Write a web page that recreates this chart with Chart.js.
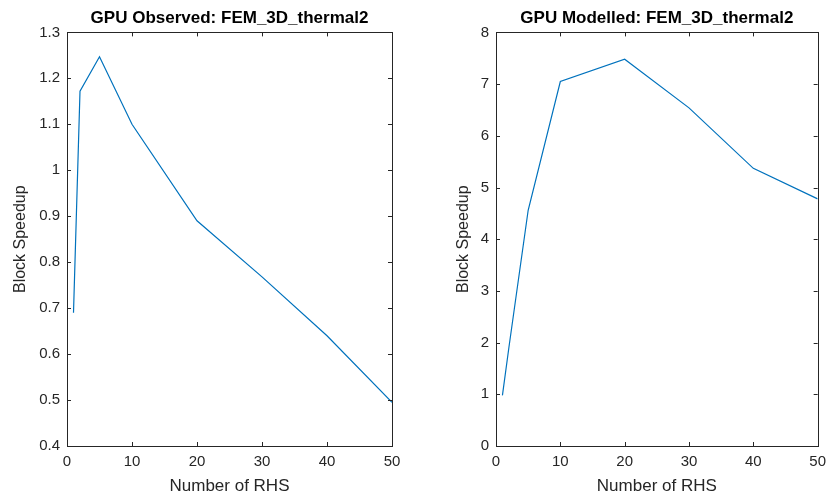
<!DOCTYPE html>
<html>
<head>
<meta charset="utf-8">
<script src="https://cdn.jsdelivr.net/npm/chart.js@4.4.1/dist/chart.umd.min.js"></script>
<style>
  html, body { margin: 0; padding: 0; background: #fff; }
  #wrap { position: relative; width: 833px; height: 499px; overflow: hidden; }
  canvas { position: absolute; top: 0; }
</style>
</head>
<body>
<div id="wrap">
  <canvas id="observed" width="416" height="499" style="left:0px"></canvas>
  <canvas id="modelled" width="417" height="499" style="left:416px"></canvas>
</div>
<script>
// number of right-hand sides (x axis)
const rhsCounts = [1, 2, 5, 10, 20, 30, 40, 50];
// block speedup
const speedupObserved = [0.69, 1.172, 1.247, 1.10, 0.89, 0.768, 0.64, 0.495];
const speedupModelled = [0.98, 1.9, 4.56, 7.05, 7.48, 6.54, 5.37, 4.78];

const xTicks = [0, 10, 20, 30, 40, 50];
const yTicksObserved = [0.4, 0.5, 0.6, 0.7, 0.8, 0.9, 1, 1.1, 1.2, 1.3];
const yTicksModelled = [0, 1, 2, 3, 4, 5, 6, 7, 8];

const titles = ['GPU Observed: FEM_3D_thermal2', 'GPU Modelled: FEM_3D_thermal2'];
const xLabel = 'Number of RHS';
const yLabel = 'Block Speedup';

const axisColor = '#262626';
const lineColor = '#0072BD';
const fontFamily = 'Arial, "Liberation Sans", Helvetica, sans-serif';

// matlab style box with inward ticks on all 4 sides
const boxPlugin = {
  id: 'matlabBox',
  afterDraw(chart) {
    const { ctx, chartArea: a, scales } = chart;
    const len = 4;
    ctx.save();
    ctx.strokeStyle = axisColor;
    ctx.lineWidth = 1;
    ctx.strokeRect(Math.round(a.left) + 0.5, Math.round(a.top) + 0.5,
      Math.round(a.right - a.left), Math.round(a.bottom - a.top));
    ctx.beginPath();
    scales.x.ticks.forEach(t => {
      const px = Math.round(scales.x.getPixelForValue(t.value)) + 0.5;
      ctx.moveTo(px, a.bottom); ctx.lineTo(px, a.bottom - len);
      ctx.moveTo(px, a.top); ctx.lineTo(px, a.top + len);
    });
    scales.y.ticks.forEach(t => {
      const py = Math.round(scales.y.getPixelForValue(t.value)) + 0.5;
      ctx.moveTo(a.left, py); ctx.lineTo(a.left + len, py);
      ctx.moveTo(a.right, py); ctx.lineTo(a.right - len, py);
    });
    ctx.stroke();
    ctx.restore();
  }
};

function makePanel(id, title, values, yTicks, yWidth, padRight, yTitlePad) {
  const points = rhsCounts.map((x, i) => ({ x: x, y: values[i] }));
  return new Chart(document.getElementById(id), {
    type: 'line',
    data: {
      datasets: [{
        data: points,
        borderColor: lineColor,
        borderWidth: 1.2,
        pointRadius: 0,
        tension: 0,
        fill: false
      }]
    },
    options: {
      responsive: false,
      animation: false,
      devicePixelRatio: 1,
      layout: { padding: { left: 0, right: padRight, top: 0, bottom: 0 } },
      plugins: {
        legend: { display: false },
        tooltip: { enabled: false },
        title: {
          display: true,
          fullSize: false,   // centre over the plot box, like matlab
          align: 'center',
          text: title,
          color: '#000',
          font: { family: fontFamily, size: 17, weight: 'bold' },
          padding: { top: 8, bottom: 4 }
        }
      },
      scales: {
        x: {
          type: 'linear',
          min: xTicks[0],
          max: xTicks[xTicks.length - 1],
          afterBuildTicks: s => { s.ticks = xTicks.map(v => ({ value: v })); },
          afterFit: s => { s.height = 53; },
          grid: { display: false, drawTicks: false },
          border: { display: false },
          ticks: {
            color: axisColor,
            font: { family: fontFamily, size: 15 },
            padding: 7,
            maxRotation: 0,
            callback: v => String(v)
          },
          title: {
            display: true,
            text: xLabel,
            color: axisColor,
            font: { family: fontFamily, size: 17 },
            padding: { top: 0, bottom: 2 }
          }
        },
        y: {
          type: 'linear',
          min: yTicks[0],
          max: yTicks[yTicks.length - 1],
          afterBuildTicks: s => { s.ticks = yTicks.map(v => ({ value: v })); },
          afterFit: s => { s.width = yWidth; },
          grid: { display: false, drawTicks: false },
          border: { display: false },
          ticks: {
            color: axisColor,
            font: { family: fontFamily, size: 15 },
            padding: 7,
            callback: v => String(+(+v).toFixed(1))
          },
          title: {
            display: true,
            text: yLabel,
            color: axisColor,
            font: { family: fontFamily, size: 16 },
            padding: { top: yTitlePad, bottom: 0 }
          }
        }
      }
    },
    plugins: [boxPlugin]
  });
}

makePanel('observed', titles[0], speedupObserved, yTicksObserved, 67, 24, 11);
makePanel('modelled', titles[1], speedupModelled, yTicksModelled, 80, 12, 38);
</script>
</body>
</html>
